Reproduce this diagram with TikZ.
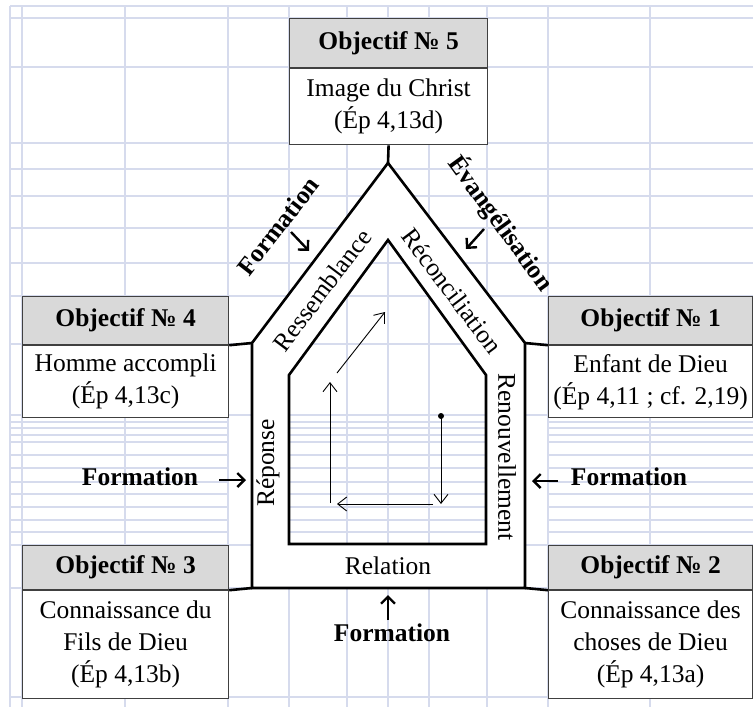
\documentclass[tikz,border=0pt]{standalone}
\usepackage{fontspec}
\setmainfont{Liberation Serif}
\usetikzlibrary{arrows.meta, positioning}

\definecolor{gridblue}{RGB}{214,219,237}
\definecolor{headgray}{RGB}{217,217,217}

\tikzset{
  gridline/.style={gridblue, line width=1.1pt},
  head/.style={draw=black!75, line width=1.2pt, fill=headgray, inner sep=0pt, font=\fontsize{25.5}{32}\selectfont\bfseries},
  body/.style={draw=black!75, line width=1.2pt, fill=white, inner sep=0pt, align=center, font=\fontsize{25.5}{32}\selectfont},
  wall/.style={line width=2.6pt, line join=miter},
  link/.style={line width=2.6pt},
  band/.style={font=\fontsize{25.5}{32}\selectfont, inner sep=0pt},
  push/.style={font=\fontsize{25.5}{32}\selectfont\bfseries, inner sep=0pt},
  pusharrow/.style={line width=2.4pt, -{Straight Barb[length=7pt,width=14pt]}},
  flow/.style={line width=0.9pt, -{Straight Barb[length=9pt,width=14pt]}},
}

\begin{document}
\begin{tikzpicture}[x=1pt, y=-1pt]
\useasboundingbox (0,0) rectangle (753,707);

% spreadsheet grid
\foreach \gx in {10,22,125,228,289,347,388,429,487,548,650}
  \draw[gridline] (\gx,6) -- (\gx,707);
\foreach \gy in {6,18,67,143,169,196,228,263,296,344,415,545,588,697}
  \draw[gridline] (10,\gy) -- (753,\gy);
\foreach \gy in {422,428,435,442,455,468,482,494,507,520,532} {
  \draw[gridline] (10,\gy) -- (228,\gy);
  \draw[gridline] (289,\gy) -- (487,\gy);
  \draw[gridline] (548,\gy) -- (753,\gy);
}

% house corners
\coordinate (o1) at (252,343); %left eave
\coordinate (o2) at (388,163); %apex
\coordinate (o3) at (525,343); %right eave
\coordinate (o4) at (525,588);
\coordinate (o5) at (252,588);
\coordinate (i1) at (289,375);
\coordinate (i2) at (388,240);
\coordinate (i3) at (486,375);
\coordinate (i4) at (486,544);
\coordinate (i5) at (289,544);

\fill[white, even odd rule] (o1) -- (o2) -- (o3) -- (o4) -- (o5) -- cycle
  (i1) -- (i2) -- (i3) -- (i4) -- (i5) -- cycle;
\draw[wall] (o1) -- (o2) -- (o3) -- (o4) -- (o5) -- cycle;
\draw[wall] (i1) -- (i2) -- (i3) -- (i4) -- (i5) -- cycle;

% objectives
\node[head, minimum width=198pt, minimum height=49pt, anchor=north west] (h5) at (289,18) {Objectif № 5};
\node[body, minimum width=198pt, minimum height=76pt, below=0pt of h5] (b5) {Image du Christ\\(Ép 4,13d)};

\node[head, minimum width=206pt, minimum height=48pt, anchor=north west] (h4) at (22,296) {Objectif № 4};
\node[body, minimum width=206pt, minimum height=72pt, below=0pt of h4] (b4) {Homme accompli\\(Ép 4,13c)};

\node[head, minimum width=204pt, minimum height=48pt, anchor=north west] (h1) at (548,296) {Objectif № 1};
\node[body, minimum width=204pt, minimum height=72pt, below=0pt of h1] (b1) {Enfant de Dieu\\(Ép 4,11 ; cf. 2,19)};

\node[head, minimum width=206pt, minimum height=44pt, anchor=north west] (h3) at (22,545) {Objectif № 3};
\node[body, minimum width=206pt, minimum height=108pt, below=0pt of h3] (b3) {Connaissance du\\Fils de Dieu\\(Ép 4,13b)};

\node[head, minimum width=204pt, minimum height=44pt, anchor=north west] (h2) at (548,545) {Objectif № 2};
\node[body, minimum width=204pt, minimum height=108pt, below=0pt of h2] (b2) {Connaissance des\\choses de Dieu\\(Ép 4,13a)};

\draw[link] (b5.south) -- (o2);
\draw[link] (h4.south east) -- (o1);
\draw[link] (h1.south west) -- (o3);
\draw[link] (h3.south east) -- (o5);
\draw[link] (h2.south west) -- (o4);

% bands
\node[band, rotate=53] (ress) at (322,290) {Ressemblance};
\node[band, rotate=-53] (reco) at (452,291) {Réconciliation};
\node[band, rotate=90] (repo) at (268,463) {Réponse};
\node[band, rotate=-90] (reno) at (507,457) {Renouvellement};
\node[band] (rela) at (388,566) {Relation};

% formation
\node[push, rotate=52] (ftop) at (278,226) {Formation};
\node[push, rotate=-54] (evan) at (501,223) {Évangélisation};
\node[push] (fleft) at (140,477) {Formation};
\node[push] (fright) at (629,477) {Formation};
\node[push] (fbot) at (392,633) {Formation};

\coordinate (ta1) at (291,232); \coordinate (ta2) at (309,251);
\coordinate (ea1) at (484,229); \coordinate (ea2) at (466,249);
\coordinate (la1) at (219,480); \coordinate (la2) at (246,480);
\coordinate (ra1) at (558,481); \coordinate (ra2) at (532,481);
\coordinate (ba1) at (388,620); \coordinate (ba2) at (388,595);
\draw[pusharrow] (ta1) -- (ta2);
\draw[pusharrow] (ea1) -- (ea2);
\draw[pusharrow] (la1) -- (la2);
\draw[pusharrow] (ra1) -- (ra2);
\draw[pusharrow] (ba1) -- (ba2);

% path inside
\coordinate (p1) at (441,416);
\coordinate (p2) at (441,504);
\coordinate (p3) at (433,504);
\coordinate (p4) at (337,504);
\coordinate (p5) at (330,503);
\coordinate (p6) at (330,382);
\coordinate (p7) at (337,373);
\coordinate (p8) at (385,312);
\fill (p1) circle (3pt);
\draw[flow] (p1) -- (p2);
\draw[flow] (p3) -- (p4);
\draw[flow] (p5) -- (p6);
\draw[flow] (p7) -- (p8);

\end{tikzpicture}
\end{document}
